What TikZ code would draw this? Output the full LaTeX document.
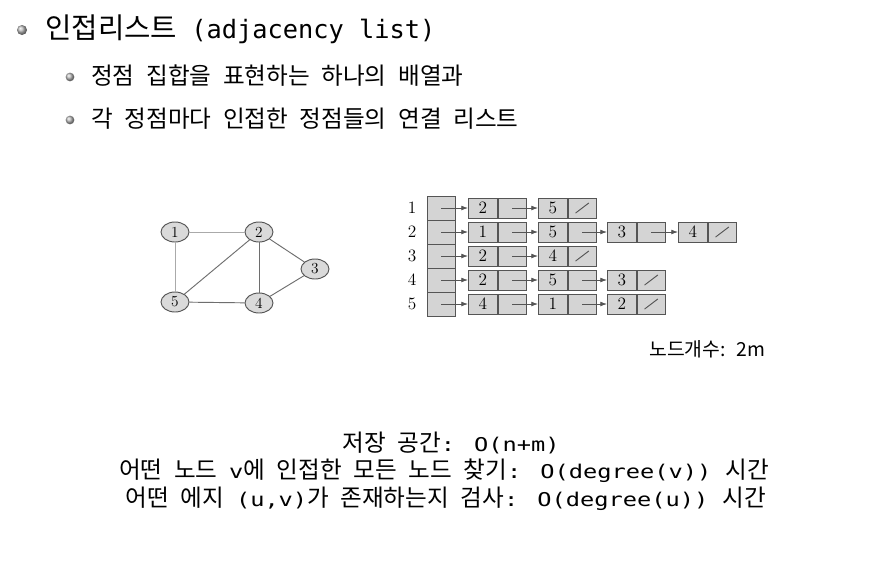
\documentclass[tikz,border=0pt]{standalone}
\usepackage{fontspec}
\setmonofont{DejaVu Sans Mono}
\newfontfamily\krfont{Noto Sans CJK KR}[WordSpace=2.2]
\newfontfamily\codefont{DejaVu Sans Mono}[FakeStretch=1.25]
\newcommand{\cf}[1]{{\codefont\fontsize{14.2}{18}\selectfont #1}}
\usepackage{tikz}
\usetikzlibrary{positioning}
\usetikzlibrary{arrows.meta, shapes.geometric}
\definecolor{cellgray}{RGB}{212,212,212}
\definecolor{nodegray}{RGB}{218,218,218}
\definecolor{linegray}{RGB}{85,85,85}
\definecolor{lightedge}{RGB}{170,170,170}

\tikzset{
  bulletdot/.style={circle, inner sep=0pt, minimum size=#1, shading=ball, ball color=gray!55},
  headtext/.style={anchor=west, inner sep=0pt, font=\krfont\fontsize{21.5}{24}\selectfont},
  subtext/.style={anchor=west, inner sep=0pt, font=\krfont\fontsize{17.7}{20}\selectfont},
  bottomtext/.style={inner sep=0pt, font=\krfont\fontsize{17.7}{20}\selectfont},
  vertex/.style={ellipse, draw=linegray, fill=nodegray, line width=0.7pt, minimum width=21pt, minimum height=15pt, inner sep=0pt, font=\fontsize{11.5}{12}\selectfont},
  arrcell/.style={rectangle, draw=linegray, fill=cellgray, line width=0.6pt, minimum width=21pt, minimum height=18pt, inner sep=0pt},
  keycell/.style={rectangle, draw=linegray, fill=cellgray, line width=0.6pt, minimum width=21.75pt, minimum height=15pt, inner sep=0pt, anchor=west, font=\fontsize{13}{14}\selectfont},
  ptrcell/.style={rectangle, draw=linegray, fill=cellgray, line width=0.6pt, minimum width=21pt, minimum height=15pt, inner sep=0pt, right=0pt of #1},
  ptr/.style={-{Latex[length=5pt,width=3.6pt]}, draw=linegray, line width=0.6pt},
  nullptr/.style={draw=linegray, line width=0.7pt}
}

\begin{document}
\begin{tikzpicture}[x=0.75pt, y=-0.75pt]
    % khung trang
    \fill[white] (0,0) rectangle (891,561);
    \useasboundingbox (0,0) rectangle (891,561);

    % tieu de va cac y phu
    \node[bulletdot=7.5pt] (bul1) at (22,30) {};
    \node[headtext] (head) at (45,29) {인접리스트 {\ttfamily\fontsize{19}{22}\selectfont (adjacency list)}};
    \node[bulletdot=6.5pt] (bul2) at (70,77) {};
    \node[subtext] (sub1) at (91,76) {정점 집합을 표현하는 하나의 배열과};
    \node[bulletdot=6.5pt] (bul3) at (70,120) {};
    \node[subtext] (sub2) at (91,119) {각 정점마다 인접한 정점들의 연결 리스트};

    % do thi 5 dinh
    \node[vertex] (v1) at (175,232) {1};
    \node[vertex] (v2) at (259,232) {2};
    \node[vertex] (v3) at (315,269) {3};
    \node[vertex] (v4) at (259,303) {4};
    \node[vertex] (v5) at (175,302) {5};
    \draw[lightedge, line width=0.6pt] (v1) -- (v2);
    \draw[lightedge, line width=0.6pt] (v1) -- (v5);
    \draw[linegray!85, line width=0.7pt] (v2) -- (v5);
    \draw[linegray!85, line width=0.7pt] (v2) -- (v4);
    \draw[linegray!85, line width=0.7pt] (v2) -- (v3);
    \draw[linegray!85, line width=0.7pt] (v3) -- (v4);
    \draw[linegray!85, line width=0.7pt] (v5) -- (v4);

    % mang dinh va nhan 1..5
    \foreach \r/\y in {1/208, 2/232, 3/256, 4/280, 5/304} {
        \node[arrcell] (a\r) at (441,\y) {};
        \node[font=\fontsize{13}{14}\selectfont] (lbl\r) at (412,\y) {\r};
    }

    % danh sach ke cua tung dinh
    \node[keycell] (k11) at (468,208) {2}; \node[ptrcell=k11] (p11) {};
    \node[keycell] (k12) at (538,208) {5}; \node[ptrcell=k12] (p12) {};
    \node[keycell] (k21) at (468,232) {1}; \node[ptrcell=k21] (p21) {};
    \node[keycell] (k22) at (538,232) {5}; \node[ptrcell=k22] (p22) {};
    \node[keycell] (k23) at (607,232) {3}; \node[ptrcell=k23] (p23) {};
    \node[keycell] (k24) at (678,232) {4}; \node[ptrcell=k24] (p24) {};
    \node[keycell] (k31) at (468,256) {2}; \node[ptrcell=k31] (p31) {};
    \node[keycell] (k32) at (538,256) {4}; \node[ptrcell=k32] (p32) {};
    \node[keycell] (k41) at (468,280) {2}; \node[ptrcell=k41] (p41) {};
    \node[keycell] (k42) at (538,280) {5}; \node[ptrcell=k42] (p42) {};
    \node[keycell] (k43) at (607,280) {3}; \node[ptrcell=k43] (p43) {};
    \node[keycell] (k51) at (468,304) {4}; \node[ptrcell=k51] (p51) {};
    \node[keycell] (k52) at (538,304) {1}; \node[ptrcell=k52] (p52) {};
    \node[keycell] (k53) at (607,304) {2}; \node[ptrcell=k53] (p53) {};

    % con tro
    \foreach \s/\t in {a1/k11, p11/k12, a2/k21, p21/k22, p22/k23, p23/k24,
                       a3/k31, p31/k32, a4/k41, p41/k42, p42/k43,
                       a5/k51, p51/k52, p52/k53}
        \draw[ptr] (\s.center) -- (\t.west);
    % con tro rong (null)
    \foreach \p in {p12, p24, p32, p43, p53}
        \draw[nullptr] ([xshift=-5pt,yshift=-3.8pt]\p.center) -- ([xshift=5pt,yshift=3.8pt]\p.center);

    \node[anchor=west, inner sep=0pt, font=\krfont\fontsize{14.5}{16}\selectfont] (count) at (649,349) {노드개수: 2m};

    % do phuc tap
    \node[bottomtext] (space) at (451,443) {저장 공간\cf{: O(n+m)}};
    \node[bottomtext] (find) at (444,471) {어떤 노드 \cf{v}에 인접한 모든 노드 찾기\cf{: O(degree(v)) }시간};
    \node[bottomtext] (check) at (446,499) {어떤 에지 \cf{(u,v)}가 존재하는지 검사\cf{: O(degree(u)) }시간};
\end{tikzpicture}
\end{document}
